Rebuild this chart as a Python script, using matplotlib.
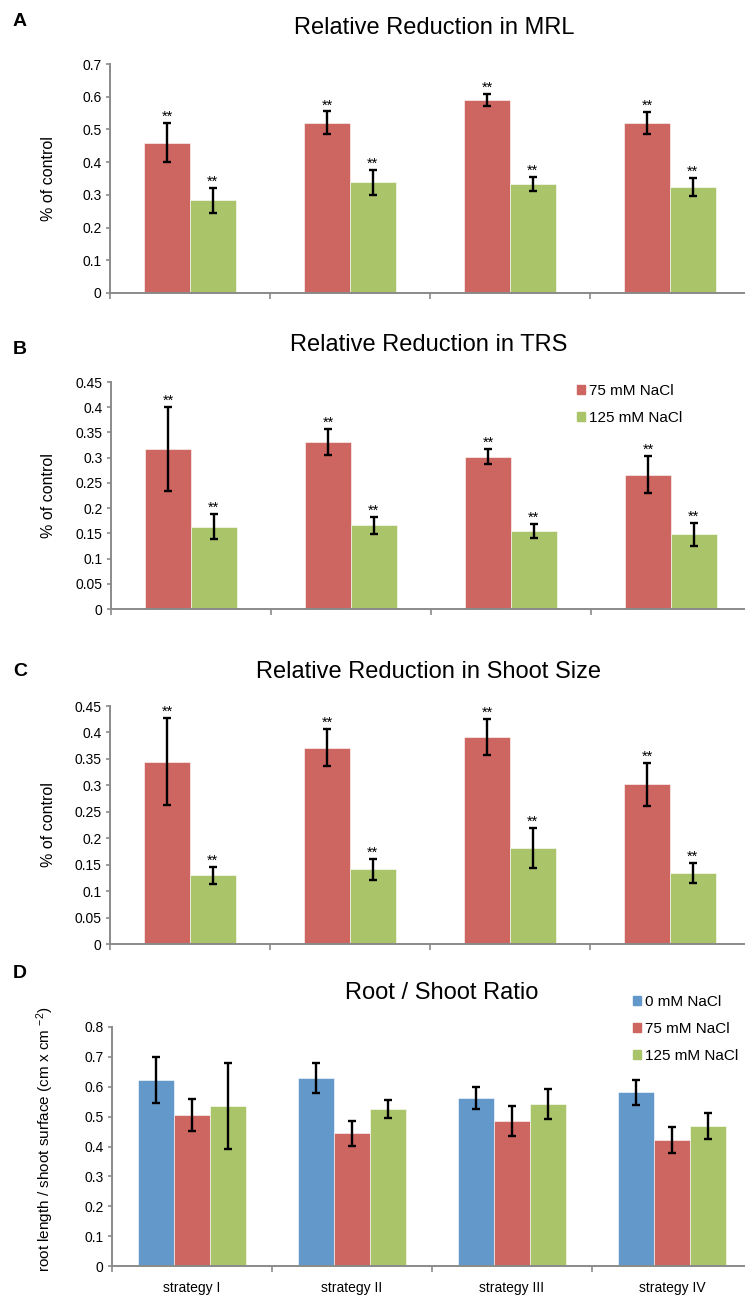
import numpy as np
import matplotlib
matplotlib.use('Agg')
import matplotlib.pyplot as plt
from matplotlib.ticker import MultipleLocator, FormatStrFormatter

plt.rcParams['font.family'] = ['Liberation Sans', 'DejaVu Sans']
plt.rcParams['mathtext.fontset'] = 'custom'
plt.rcParams['mathtext.rm'] = 'Liberation Sans'
plt.rcParams['mathtext.it'] = 'Liberation Sans'

# data
strategies = ['strategy I', 'strategy II', 'strategy III', 'strategy IV']

mrl_75 = [0.46, 0.52, 0.59, 0.52]
mrl_75_err = [0.06, 0.035, 0.019, 0.033]
mrl_125 = [0.283, 0.338, 0.334, 0.325]
mrl_125_err = [0.037, 0.037, 0.021, 0.028]

trs_75 = [0.317, 0.331, 0.302, 0.266]
trs_75_err = [0.083, 0.026, 0.015, 0.037]
trs_125 = [0.163, 0.166, 0.154, 0.148]
trs_125_err = [0.025, 0.017, 0.014, 0.023]

shoot_75 = [0.345, 0.371, 0.391, 0.302]
shoot_75_err = [0.083, 0.035, 0.034, 0.041]
shoot_125 = [0.130, 0.141, 0.182, 0.135]
shoot_125_err = [0.016, 0.020, 0.038, 0.019]

ratio_0 = [0.622, 0.628, 0.561, 0.581]
ratio_0_err = [0.076, 0.050, 0.037, 0.041]
ratio_75 = [0.505, 0.444, 0.485, 0.422]
ratio_75_err = [0.053, 0.041, 0.051, 0.044]
ratio_125 = [0.535, 0.525, 0.541, 0.469]
ratio_125_err = [0.145, 0.031, 0.050, 0.043]

blue = '#6398cb'
red = '#cd6560'
green = '#aac46a'
axcol = '#8a8a8a'

W, H = 745., 1295.
fig = plt.figure(figsize=(W/100, H/100), dpi=100)

def px_axes(left, top, bottom, width=640.):
    return fig.add_axes([left/W, 1-bottom/H, width/W, (bottom-top)/H])

def style(ax, ymax, step, labels=False):
    ax.set_xlim(-0.5, 3.5)
    ax.set_ylim(0, ymax)
    ax.yaxis.set_major_locator(MultipleLocator(step))
    ax.yaxis.set_major_formatter(FormatStrFormatter('%g'))
    for s in ['top', 'right']:
        ax.spines[s].set_visible(False)
    for s in ['left', 'bottom']:
        ax.spines[s].set_color(axcol)
        ax.spines[s].set_linewidth(1.4)
    ax.tick_params(axis='y', direction='out', length=3, width=1.2, color=axcol,
                   labelsize=10, pad=3)
    ax.set_xticks(np.arange(-0.5, 4.0, 1.0))
    ax.set_xticklabels([])
    ax.tick_params(axis='x', which='major', direction='out', length=4, width=1.2,
                   color=axcol)
    if labels:
        ax.set_xticks(np.arange(4), minor=True)
        ax.set_xticklabels(strategies, minor=True)
        ax.tick_params(axis='x', which='minor', length=0, labelsize=10, pad=11)

def bars(ax, x, vals, errs, color, width, stars=True):
    ax.bar(x, vals, width, color=color, edgecolor='white', linewidth=0.4)
    ax.errorbar(x, vals, yerr=errs, fmt='none', ecolor='black', elinewidth=1.7,
                capsize=3, capthick=1.7)
    if stars:
        for xi, v, e in zip(x, vals, errs):
            ax.annotate('**', (xi, v+e), xytext=(0, 1.5), textcoords='offset points',
                        ha='center', va='baseline', fontsize=10.5)

x = np.arange(4)
w = 0.285

# A
axA = px_axes(110, 64, 293)
bars(axA, x-w/2, mrl_75, mrl_75_err, red, w)
bars(axA, x+w/2, mrl_125, mrl_125_err, green, w)
style(axA, 0.7, 0.1)
axA.set_ylabel('% of control', fontsize=11.5)
axA.yaxis.set_label_coords((56-110)/640., 0.5)
fig.text(434/W, 1-28/H, 'Relative Reduction in MRL', fontsize=17, ha='center', va='center')
fig.text(13/W, 1-22/H, 'A', fontsize=14, fontweight='bold', va='center')

# B
axB = px_axes(111, 382, 609)
bars(axB, x-w/2, trs_75, trs_75_err, red, w)
bars(axB, x+w/2, trs_125, trs_125_err, green, w)
style(axB, 0.45, 0.05)
axB.set_ylabel('% of control', fontsize=11.5)
axB.yaxis.set_label_coords((56-111)/640., 0.5)
fig.text(429/W, 1-345/H, 'Relative Reduction in TRS', fontsize=17, ha='center', va='center')
fig.text(13/W, 1-350/H, 'B', fontsize=14, fontweight='bold', va='center')
hB = [plt.Rectangle((0, 0), 1, 1, color=red), plt.Rectangle((0, 0), 1, 1, color=green)]
fig.legend(hB, ['75 mM NaCl', '125 mM NaCl'], loc='upper left',
           bbox_to_anchor=(577/W, 1-384/H), frameon=False, fontsize=11,
           handlelength=0.5, handleheight=0.5, handletextpad=0.3,
           labelspacing=0.85, borderpad=0, borderaxespad=0)

# C
axC = px_axes(110, 706, 944)
bars(axC, x-w/2, shoot_75, shoot_75_err, red, w)
bars(axC, x+w/2, shoot_125, shoot_125_err, green, w)
style(axC, 0.45, 0.05)
axC.set_ylabel('% of control', fontsize=11.5)
axC.yaxis.set_label_coords((56-110)/640., 0.5)
fig.text(428/W, 1-672/H, 'Relative Reduction in Shoot Size', fontsize=17, ha='center', va='center')
fig.text(13/W, 1-671/H, 'C', fontsize=14, fontweight='bold', va='center')

# D
wd = 0.225
axD = px_axes(112, 1027, 1266)
bars(axD, x-wd, ratio_0, ratio_0_err, blue, wd, stars=False)
bars(axD, x, ratio_75, ratio_75_err, red, wd, stars=False)
bars(axD, x+wd, ratio_125, ratio_125_err, green, wd, stars=False)
style(axD, 0.8, 0.1, labels=True)
axD.set_ylabel(r'root length / shoot surface (cm x cm $^{-2}$)', fontsize=11)
axD.yaxis.set_label_coords((56-112)/640., 0.53)
fig.text(442/W, 1-993/H, 'Root / Shoot Ratio', fontsize=17, ha='center', va='center')
fig.text(13/W, 1-974/H, 'D', fontsize=14, fontweight='bold', va='center')
hD = [plt.Rectangle((0, 0), 1, 1, color=blue), plt.Rectangle((0, 0), 1, 1, color=red),
      plt.Rectangle((0, 0), 1, 1, color=green)]
fig.legend(hD, ['0 mM NaCl', '75 mM NaCl', '125 mM NaCl'], loc='upper left',
           bbox_to_anchor=(633/W, 1-995/H), frameon=False, fontsize=11,
           handlelength=0.5, handleheight=0.5, handletextpad=0.3,
           labelspacing=0.85, borderpad=0, borderaxespad=0)

fig.savefig('out.png', dpi=100)
